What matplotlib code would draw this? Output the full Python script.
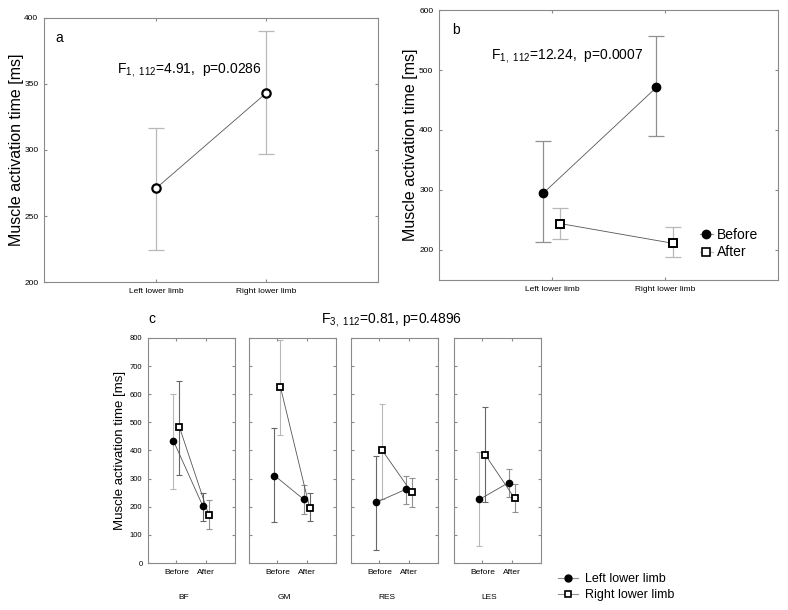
import matplotlib
matplotlib.use("Agg")
import matplotlib.pyplot as plt
from matplotlib.lines import Line2D
import numpy as np

plt.rcParams['font.family'] = ['Liberation Sans', 'DejaVu Sans']
plt.rcParams['mathtext.fontset'] = 'custom'
plt.rcParams['mathtext.rm'] = 'Liberation Sans'

# Panel a: main effect of limb
limbs = ["Left lower limb", "Right lower limb"]
a_mean = [271, 343]
a_lo = [224, 297]
a_hi = [317, 390]

# Panel b: limb x time
b_before_mean = [295, 471]
b_before_lo = [213, 390]
b_before_hi = [381, 557]
b_after_mean = [244, 211]
b_after_lo = [219, 188]
b_after_hi = [270, 239]

# Panel c: muscle x time x limb
muscles = ["BF", "GM", "RES", "LES"]
phases = ["Before", "After"]
left_mean = [[434, 203], [311, 226], [216, 262], [226, 286]]
left_lo = [[262, 150], [145, 174], [46, 210], [59, 236]]
left_hi = [[601, 250], [479, 277], [380, 311], [393, 334]]
right_mean = [[484, 172], [627, 197], [400, 251], [384, 230]]
right_lo = [[313, 120], [455, 149], [229, 199], [217, 180]]
right_hi = [[648, 223], [793, 248], [565, 301], [553, 280]]

LIGHT = "#b8b8b8"
MID = "#909090"
DARK = "#666666"
left_ecol = [[LIGHT, DARK], [DARK, MID], [DARK, MID], [LIGHT, MID]]
right_ecol = [[DARK, MID], [LIGHT, DARK], [LIGHT, MID], [DARK, MID]]

SPINE = "#8a8a8a"


def style_axes(ax):
    for s in ax.spines.values():
        s.set_color(SPINE)
        s.set_linewidth(0.8)
    ax.tick_params(which='both', direction='in', length=2.5, color=SPINE,
                   right=True, top=True, pad=4)


def errs(mean, lo, hi):
    mean = np.asarray(mean)
    return [mean - np.asarray(lo), np.asarray(hi) - mean]


fig = plt.figure(figsize=(7.88, 6.10), dpi=100)

# ---------- a ----------
ax = fig.add_axes([0.0558, 0.5377, 0.424, 0.4328])
x = np.arange(len(limbs))
ax.errorbar(x, a_mean, yerr=errs(a_mean, a_lo, a_hi), fmt='none',
            ecolor=LIGHT, elinewidth=0.9, capsize=6, capthick=0.9, zorder=1)
ax.plot(x, a_mean, color="#555555", lw=0.6, zorder=2)
ax.plot(x, a_mean, 'o', ms=6, mfc='white', mec='black', mew=1.6, zorder=3)
ax.set_xlim(-1.02, 2.02)
ax.set_ylim(200, 400)
ax.set_yticks([200, 250, 300, 350, 400])
ax.set_xticks(x)
ax.set_xticklabels(limbs, fontsize=6)
ax.tick_params(axis='y', labelsize=6)
ax.set_ylabel("Muscle activation time [ms]", fontsize=11.5, labelpad=0)
style_axes(ax)
ax.text(0.035, 0.91, "a", transform=ax.transAxes, fontsize=10)
ax.text(0.22, 0.79, r"F$_{\mathrm{1,\ 112}}$=4.91,  p=0.0286",
        transform=ax.transAxes, fontsize=10)

# ---------- b ----------
ax = fig.add_axes([0.557, 0.541, 0.4302, 0.4426])
off = 0.075
ax.errorbar(x - off, b_before_mean, yerr=errs(b_before_mean, b_before_lo, b_before_hi),
            fmt='none', ecolor=MID, elinewidth=0.9, capsize=6, capthick=0.9, zorder=1)
ax.errorbar(x + off, b_after_mean, yerr=errs(b_after_mean, b_after_lo, b_after_hi),
            fmt='none', ecolor=LIGHT, elinewidth=0.9, capsize=6, capthick=0.9, zorder=1)
ax.plot(x - off, b_before_mean, color="#555555", lw=0.6, zorder=2)
ax.plot(x + off, b_after_mean, color="#555555", lw=0.6, zorder=2)
ax.plot(x - off, b_before_mean, 'o', ms=6, color='black', zorder=3)
ax.plot(x + off, b_after_mean, 's', ms=6, mfc='white', mec='black', mew=1.4, zorder=3)
ax.set_xlim(-1.0, 2.0)
ax.set_ylim(150, 600)
ax.set_yticks([200, 300, 400, 500, 600])
ax.set_xticks(x)
ax.set_xticklabels(limbs, fontsize=6)
ax.tick_params(axis='y', labelsize=6)
ax.set_ylabel("Muscle activation time [ms]", fontsize=11.5, labelpad=1)
style_axes(ax)
ax.text(0.04, 0.91, "b", transform=ax.transAxes, fontsize=10)
ax.text(0.155, 0.82, r"F$_{\mathrm{1,\ 112}}$=12.24,  p=0.0007",
        transform=ax.transAxes, fontsize=10)
hb = [Line2D([], [], color=MID, lw=0.8, marker='o', ms=6, mfc='black', mec='black'),
      Line2D([], [], color=LIGHT, lw=0.8, marker='s', ms=6, mfc='white', mec='black', mew=1.2)]
ax.legend(hb, ["Before", "After"], loc='lower right', bbox_to_anchor=(0.97, 0.04),
          frameon=False, fontsize=10, handlelength=0.9, handletextpad=0.3,
          labelspacing=0.25, borderpad=0.2)

# ---------- c ----------
lefts = [148, 249, 351, 454]
xc = np.arange(len(phases))
offc = 0.1
for i, m in enumerate(muscles):
    ax = fig.add_axes([lefts[i] / 788, 0.077, 87 / 788, 0.369])
    for j in range(len(phases)):
        ax.errorbar(xc[j] - offc, left_mean[i][j],
                    yerr=[[left_mean[i][j] - left_lo[i][j]], [left_hi[i][j] - left_mean[i][j]]],
                    fmt='none', ecolor=left_ecol[i][j], elinewidth=0.8,
                    capsize=2, capthick=0.8, zorder=1)
        ax.errorbar(xc[j] + offc, right_mean[i][j],
                    yerr=[[right_mean[i][j] - right_lo[i][j]], [right_hi[i][j] - right_mean[i][j]]],
                    fmt='none', ecolor=right_ecol[i][j], elinewidth=0.8,
                    capsize=2, capthick=0.8, zorder=1)
    ax.plot(xc - offc, left_mean[i], color="#555555", lw=0.6, zorder=2)
    ax.plot(xc + offc, right_mean[i], color="#555555", lw=0.6, zorder=2)
    ax.plot(xc - offc, left_mean[i], 'o', ms=4.5, color='black', zorder=3)
    ax.plot(xc + offc, right_mean[i], 's', ms=4.8, mfc='white', mec='black', mew=1.3, zorder=3)
    ax.set_xlim(-0.97, 2.0)
    ax.set_ylim(0, 800)
    ax.set_yticks(np.arange(0, 801, 100))
    ax.set_xticks(xc)
    ax.set_xticklabels(phases, fontsize=6)
    style_axes(ax)
    if i == 0:
        ax.tick_params(axis='y', labelsize=5.5)
        ax.set_ylabel("Muscle activation time [ms]", fontsize=9.5, labelpad=3)
    else:
        ax.tick_params(axis='y', labelleft=False)
    ax.text(0.41, -0.155, m, transform=ax.transAxes, fontsize=6, ha='center', va='center')

fig.text(148 / 788, 1 - 319 / 610, "c", fontsize=10, va='center')
fig.text(321 / 788, 1 - 320 / 610, r"F$_{\mathrm{3,\ 112}}$=0.81, p=0.4896",
         fontsize=10, va='center')

hc = [Line2D([], [], color=MID, lw=0.8, marker='o', ms=5, mfc='black', mec='black'),
      Line2D([], [], color=MID, lw=0.8, marker='s', ms=5, mfc='white', mec='black', mew=1.2)]
fig.legend(hc, ["Left lower limb", "Right lower limb"], loc='center left',
           bbox_to_anchor=(550 / 788, 1 - 587 / 610), frameon=False, fontsize=9,
           handlelength=1.6, handletextpad=0.6, labelspacing=0.3, borderpad=0.1)

fig.savefig("out.png", dpi=100)
